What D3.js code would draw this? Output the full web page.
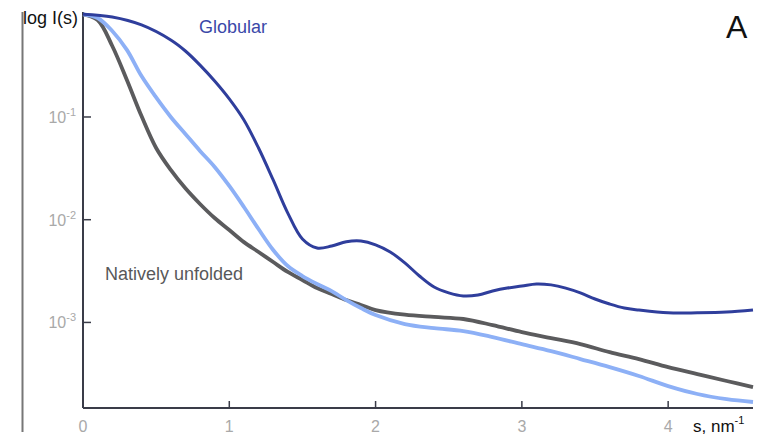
<!DOCTYPE html>
<html>
<head>
<meta charset="utf-8">
<script src="https://cdn.jsdelivr.net/npm/d3@7"></script>
<style>
  html, body { margin: 0; padding: 0; background: #fff; }
  svg { display: block; font-family: Arial, "Liberation Sans", sans-serif; }
</style>
</head>
<body>
<svg id="chart" width="765" height="435"></svg>
<script>
// Scattering vector s, nm^-1
const sValues = [0, 0.1, 0.2, 0.3, 0.4, 0.5, 0.6, 0.7, 0.8, 0.9, 1.0, 1.1, 1.2, 1.3, 1.4, 1.5,
  1.6, 1.7, 1.8, 1.9, 2.0, 2.2, 2.4, 2.6, 2.8, 3.0, 3.2, 3.4, 3.6, 3.8, 4.0, 4.2, 4.4, 4.58];

// Globular protein profile (own s grid, resolves the minima/maxima)
const sGlobular = [0, 0.2, 0.4, 0.6, 0.7, 0.8, 0.9, 1.0, 1.1, 1.2, 1.3, 1.4, 1.5, 1.6, 1.7, 1.8,
  1.9, 2.0, 2.1, 2.2, 2.3, 2.4, 2.5, 2.6, 2.7, 2.8, 2.9, 3.0, 3.1, 3.2, 3.3, 3.4, 3.5, 3.6, 3.7,
  3.8, 4.0, 4.2, 4.4, 4.58];
const iGlobular = [1.0, 0.94, 0.787, 0.562, 0.439, 0.32, 0.224, 0.15, 0.0935, 0.0499, 0.0244,
  0.0116, 0.00649, 0.0053, 0.00555, 0.0061, 0.0062, 0.0057, 0.00485, 0.0038, 0.00283, 0.00221,
  0.00194, 0.00181, 0.00185, 0.00202, 0.00216, 0.00226, 0.00237, 0.00232, 0.00216, 0.00194,
  0.00169, 0.00151, 0.00138, 0.00132, 0.00124, 0.00124, 0.00126, 0.00132];

// Intermediate (light blue) profile
const iPartial = [1.0, 0.92, 0.688, 0.45, 0.25, 0.155, 0.1, 0.0683, 0.0467, 0.0326, 0.0213,
  0.0133, 0.00811, 0.00507, 0.00354, 0.00283, 0.00237, 0.00202, 0.00165, 0.00138, 0.00118,
  0.000964, 0.000881, 0.000824, 0.00072, 0.000615, 0.000526, 0.00044, 0.000367, 0.000301,
  0.00024, 0.000201, 0.000179, 0.000168];

// Natively unfolded profile
const iUnfolded = [1.0, 0.88, 0.491, 0.229, 0.102, 0.0499, 0.0305, 0.0202, 0.01422, 0.01038,
  0.00793, 0.00605, 0.00485, 0.00387, 0.0031, 0.00259, 0.00216, 0.00189, 0.00165, 0.00148,
  0.00132, 0.00119, 0.00113, 0.00108, 0.000942, 0.000805, 0.000704, 0.000615, 0.000514,
  0.00044, 0.000367, 0.000314, 0.000269, 0.000235];

const xTicks = [0, 1, 2, 3, 4];
const yTicks = [1e-1, 1e-2, 1e-3];
const yTickExp = ["-1", "-2", "-3"];

const svg = d3.select("#chart");
const plotLeft = 83, plotRight = 753, plotTop = 12, plotBottom = 408;

const x = d3.scaleLinear().domain([0, 4.58]).range([plotLeft, plotRight]);
const y = d3.scaleLog().domain([Math.pow(10, -3.833), Math.pow(10, 0.022)]).range([plotBottom, plotTop]);

const axisColor = "#3a3c48";
const tickLabelColor = "#a9a9a9";

// Left frame rule
svg.append("line")
  .attr("x1", 22.5).attr("x2", 22.5).attr("y1", 12).attr("y2", 432)
  .attr("stroke", "#777").attr("stroke-width", 2);

// Axes
svg.append("line").attr("x1", plotLeft).attr("x2", plotLeft).attr("y1", plotTop).attr("y2", plotBottom)
  .attr("stroke", axisColor).attr("stroke-width", 2);
svg.append("line").attr("x1", plotLeft).attr("x2", plotRight).attr("y1", plotBottom).attr("y2", plotBottom)
  .attr("stroke", axisColor).attr("stroke-width", 2);

// x ticks (pointing inward)
xTicks.forEach(t => {
  if (t > 0) {
    svg.append("line").attr("x1", x(t)).attr("x2", x(t)).attr("y1", plotBottom).attr("y2", plotBottom - 7)
      .attr("stroke", axisColor).attr("stroke-width", 1.5);
  }
  svg.append("text").attr("x", x(t)).attr("y", 432).attr("text-anchor", "middle")
    .attr("fill", tickLabelColor).attr("font-size", 16).text(t);
});

// y ticks (pointing inward) with power-of-ten labels
yTicks.forEach((t, i) => {
  svg.append("line").attr("x1", plotLeft).attr("x2", plotLeft + 8).attr("y1", y(t)).attr("y2", y(t))
    .attr("stroke", axisColor).attr("stroke-width", 1.5);
  const lab = svg.append("text").attr("x", 76).attr("y", y(t) + 6).attr("text-anchor", "end")
    .attr("fill", tickLabelColor).attr("font-size", 16);
  lab.append("tspan").text("10");
  lab.append("tspan").attr("dy", -7).attr("font-size", 11).text(yTickExp[i]);
});

// Curves
const line = d3.line().x(d => x(d[0])).y(d => y(d[1])).curve(d3.curveCatmullRom.alpha(0.5));

svg.append("path").datum(sValues.map((s, i) => [s, iUnfolded[i]]))
  .attr("d", line).attr("fill", "none").attr("stroke", "#5b5b5d").attr("stroke-width", 3.8)
  .attr("stroke-linejoin", "round");
svg.append("path").datum(sValues.map((s, i) => [s, iPartial[i]]))
  .attr("d", line).attr("fill", "none").attr("stroke", "#8db0f6").attr("stroke-width", 3.8)
  .attr("stroke-linejoin", "round");
svg.append("path").datum(sGlobular.map((s, i) => [s, iGlobular[i]]))
  .attr("d", line).attr("fill", "none").attr("stroke", "#2f3e9c").attr("stroke-width", 3)
  .attr("stroke-linejoin", "round");

// Labels
svg.append("text").attr("x", 199).attr("y", 33).attr("fill", "#3a48a8").attr("font-size", 18)
  .text("Globular");
svg.append("text").attr("x", 105).attr("y", 280).attr("fill", "#58585a").attr("font-size", 18)
  .text("Natively unfolded");
svg.append("text").attr("x", 23).attr("y", 24).attr("fill", "#111").attr("font-size", 18)
  .text("log I(s)");
svg.append("text").attr("x", 726).attr("y", 38).attr("fill", "#111").attr("font-size", 32)
  .text("A");
const sl = svg.append("text").attr("x", 693).attr("y", 432).attr("fill", "#111").attr("font-size", 17);
sl.append("tspan").text("s, nm");
sl.append("tspan").attr("dy", -8).attr("font-size", 11).text("-1");
</script>
</body>
</html>
